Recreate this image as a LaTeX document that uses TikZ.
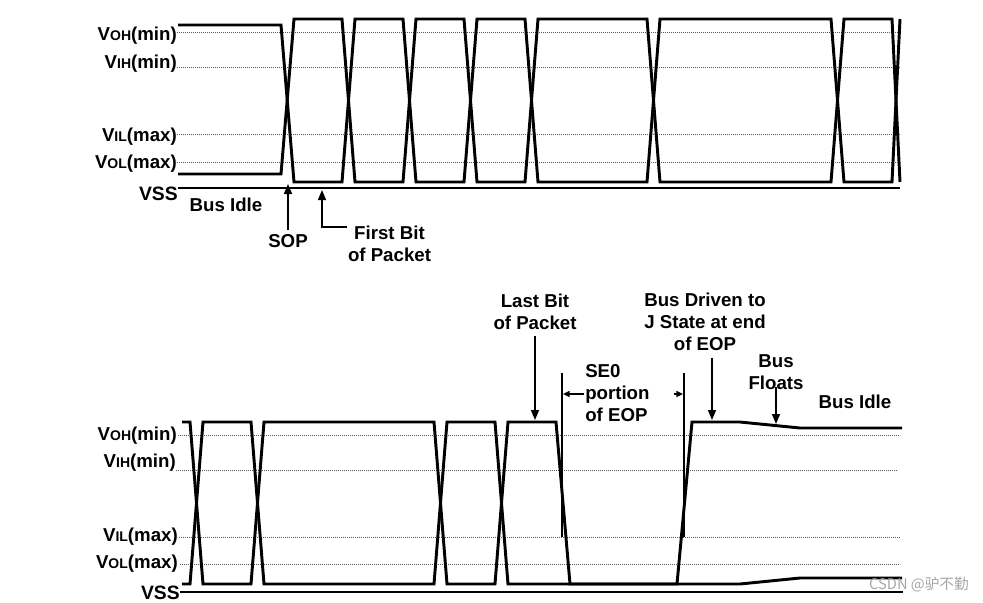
\documentclass[tikz,border=0pt]{standalone}
\usepackage{fontspec}
\setmainfont{Liberation Sans}
\newfontfamily\cjkfont{Noto Sans CJK SC}
\usetikzlibrary{arrows.meta, calc, positioning}

\tikzset{
  txt/.style={font=\fontsize{14}{16.5}\selectfont\bfseries, inner sep=0pt, align=center},
  vsslbl/.style={font=\fontsize{14.5}{16.5}\selectfont\bfseries, inner sep=0pt, anchor=east},
  wave/.style={line width=2.2pt},
  level/.style={black!65, line width=0.6pt, dash pattern=on 0.6pt off 0.9pt},
  vssline/.style={line width=1.1pt},
  marker/.style={line width=1.1pt},
  ptr/.style={line width=1.1pt, -{Triangle[length=7.5pt,width=6pt]}},
  ptrsmall/.style={line width=1.1pt, -{Triangle[length=5pt,width=4.5pt]}},
}
\newcommand{\vlevel}[2]{V{\fontsize{10.5}{12}\selectfont #1}(#2)}

\begin{document}
\begin{tikzpicture}[x=0.75pt, y=-0.75pt]
    \useasboundingbox (0,0) rectangle (983,603);

    % Upper Panel: Level Lines
    \draw[level] (177,32) -- (900,32);
    \draw[level] (177,67) -- (900,67);
    \draw[level] (177,134) -- (900,134);
    \draw[level] (177,162) -- (900,162);
    \draw[vssline] (178,188) -- (900,188);

    % Upper Panel: Level Labels
    \node[txt, anchor=east] (vohA) at (177,36) {\vlevel{OH}{min}};
    \node[txt, anchor=east] (vihA) at (177,64) {\vlevel{IH}{min}};
    \node[txt, anchor=east] (vilA) at (177,137) {\vlevel{IL}{max}};
    \node[txt, anchor=east] (volA) at (177,164) {\vlevel{OL}{max}};
    \node[vsslbl] (vssA) at (178,194) {VSS};

    % Upper Panel: Idle, SOP and Data Bits
    \draw[wave] (178,174) -- (281,174) -- (294,19) -- (342,19) -- (355,182) -- (403,182)
        -- (416,19) -- (464,19) -- (477,182) -- (525,182) -- (538,19) -- (647,19)
        -- (660,182) -- (831,182) -- (844,19) -- (892,19) -- (900,182);
    \draw[wave] (178,25) -- (281,25) -- (294,182) -- (342,182) -- (355,19) -- (403,19)
        -- (416,182) -- (464,182) -- (477,19) -- (525,19) -- (538,182) -- (647,182)
        -- (660,19) -- (831,19) -- (844,182) -- (892,182) -- (900,19);

    % Upper Panel: Annotations
    \node[txt] (idleA) at (226,205) {Bus Idle};
    \node[txt] (sop) at (288,241) {SOP};
    \coordinate (soptip) at (288,184);
    \draw[ptr] ($(sop.north)+(0,-4)$) -- (soptip);
    \node[txt] (firstbit) at (389.5,244) {First Bit\\of Packet};
    \coordinate (fbtip) at (322,190);
    \coordinate (fbelbow) at (322,227);
    \draw[ptr] ($(firstbit.west |- fbelbow)+(-1,0)$) -- (fbelbow) -- (fbtip);

    % Lower Panel: Level Lines
    \draw[level] (178,435) -- (900,435);
    \draw[level] (176,470) -- (898,470);
    \draw[level] (179,537) -- (900,537);
    \draw[level] (180,564) -- (900,564);
    \draw[vssline] (180,592) -- (903,592);

    % Lower Panel: Level Labels
    \node[txt, anchor=east] (vohB) at (177,436) {\vlevel{OH}{min}};
    \node[txt, anchor=east] (vihB) at (176,463) {\vlevel{IH}{min}};
    \node[txt, anchor=east] (vilB) at (178,537) {\vlevel{IL}{max}};
    \node[txt, anchor=east] (volB) at (178,564) {\vlevel{OL}{max}};
    \node[vsslbl] (vssB) at (180,592.5) {VSS};

    % Lower Panel: Last Bits, EOP and Float
    \draw[wave] (182,422) -- (190,422) -- (203,584) -- (251,584) -- (264,422) -- (434,422)
        -- (447,584) -- (495,584) -- (508,422) -- (556,422) -- (570,584) -- (677,584)
        -- (692,422) -- (740,422) -- (800,428) -- (902,428);
    \draw[wave] (182,584) -- (190,584) -- (203,422) -- (251,422) -- (264,584) -- (434,584)
        -- (447,422) -- (495,422) -- (508,584) -- (740,584) -- (800,578) -- (902,578);

    % Lower Panel: SE0 Markers
    \coordinate (se0top) at (562,373);
    \coordinate (se0bot) at (562,537);
    \coordinate (jtop) at (684,373);
    \coordinate (jbot) at (684,537);
    \draw[marker] (se0top) -- (se0bot);
    \draw[marker] (jtop) -- (jbot);

    % Lower Panel: Annotations
    \node[txt] (lastbit) at (535,311.5) {Last Bit\\of Packet};
    \coordinate (lbtip) at (535,420);
    \draw[ptr] ($(lastbit.south)+(0,6)$) -- (lbtip);
    \node[txt, align=left, anchor=west] (se0) at (585,393) {SE0\\portion\\of EOP};
    \draw[ptrsmall] ($(se0.west)+(-1,1)$) -- ($(se0top |- se0.west)+(1,1)$);
    \coordinate (jtail) at (674,394);
    \draw[ptrsmall] (jtail) -- ($(jtop |- jtail)+(-1,0)$);
    \node[txt] (jstate) at (705,321.5) {Bus Driven to\\J State at end\\of EOP};
    \coordinate (jstip) at (712,420);
    \draw[ptr] ($(jstate.south -| jstip)+(0,7)$) -- (jstip);
    \node[txt] (floats) at (776,372) {Bus\\Floats};
    \coordinate (fltip) at (776,424);
    \draw[ptr] ($(floats.south)+(0,-3)$) -- (fltip);
    \node[txt] (idleB) at (855,402) {Bus Idle};

    % Watermark
    \node[font=\cjkfont\fontsize{11}{13}\selectfont, text=black!35, inner sep=0pt] (mark) at (919,585) {CSDN @驴不勤};

\end{tikzpicture}
\end{document}
